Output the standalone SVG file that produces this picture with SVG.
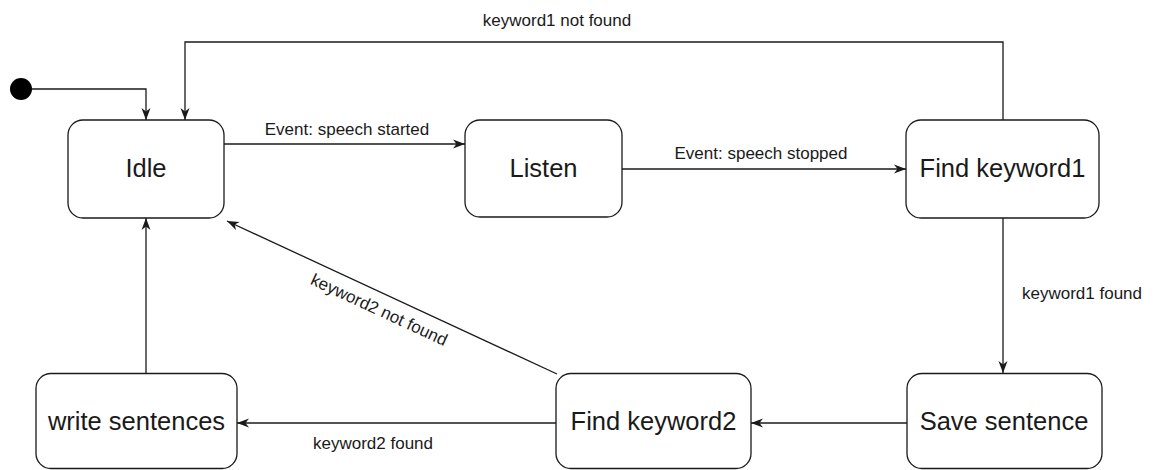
<svg xmlns="http://www.w3.org/2000/svg" width="1156" height="470" viewBox="0 0 1156 470">
<style>
.node rect{fill:#fff;stroke:#1a1a1a;stroke-width:1.3}
.node text{font-family:"Liberation Sans",Arial,sans-serif;font-size:25.5px;fill:#1a1a1a;text-anchor:middle}
.edge{fill:none;stroke:#1a1a1a;stroke-width:1.3;marker-end:url(#arr)}
.lbl{font-family:"Liberation Sans",Arial,sans-serif;font-size:17px;fill:#1a1a1a;text-anchor:middle}
</style>
<defs>
<marker id="arr" viewBox="0 0 12 10" refX="12" refY="5" markerWidth="12" markerHeight="10" markerUnits="userSpaceOnUse" orient="auto">
<path d="M0,0.5 L12,5 L0,9.5 L3.5,5 z" fill="#1a1a1a"/>
</marker>
</defs>
<rect width="1156" height="470" fill="#fff"/>
<g id="connectors">
<path class="edge" d="M32,89 H146 V120"/>
<path class="edge" d="M1003,120 V42 H185 V120"/>
<path class="edge" d="M224,144 H465"/>
<path class="edge" d="M622,169 H906"/>
<path class="edge" d="M1003,218 V373"/>
<path class="edge" d="M907,423 H751"/>
<path class="edge" d="M556,423 H237"/>
<path class="edge" d="M146,374 V218"/>
<path class="edge" d="M557,374 L227,221"/>
<text class="lbl" x="557" y="26">keyword1 not found</text>
<text class="lbl" x="347" y="135">Event: speech started</text>
<text class="lbl" x="761" y="159">Event: speech stopped</text>
<text class="lbl" x="1082" y="299">keyword1 found</text>
<text class="lbl" x="373" y="449">keyword2 found</text>
<text class="lbl" x="0" y="0" dominant-baseline="central" transform="translate(379,310) rotate(24.9)">keyword2 not found</text>
</g>
<g id="start"><circle cx="21" cy="89" r="11" fill="#000"/></g>
<g id="idle" class="node"><rect x="68" y="120" width="156" height="98" rx="15"/><text x="146" y="177">Idle</text></g>
<g id="listen" class="node"><rect x="465" y="120" width="157" height="97" rx="15"/><text x="543.5" y="177">Listen</text></g>
<g id="find1" class="node"><rect x="906" y="120" width="193" height="98" rx="15"/><text x="1002.5" y="177">Find keyword1</text></g>
<g id="save" class="node"><rect x="907" y="373.5" width="195" height="95" rx="15"/><text x="1004" y="430">Save sentence</text></g>
<g id="find2" class="node"><rect x="556" y="373.5" width="195" height="95" rx="15"/><text x="653.5" y="430">Find keyword2</text></g>
<g id="write" class="node"><rect x="36" y="373.5" width="201" height="95" rx="15"/><text x="136.5" y="430">write sentences</text></g>
</svg>
